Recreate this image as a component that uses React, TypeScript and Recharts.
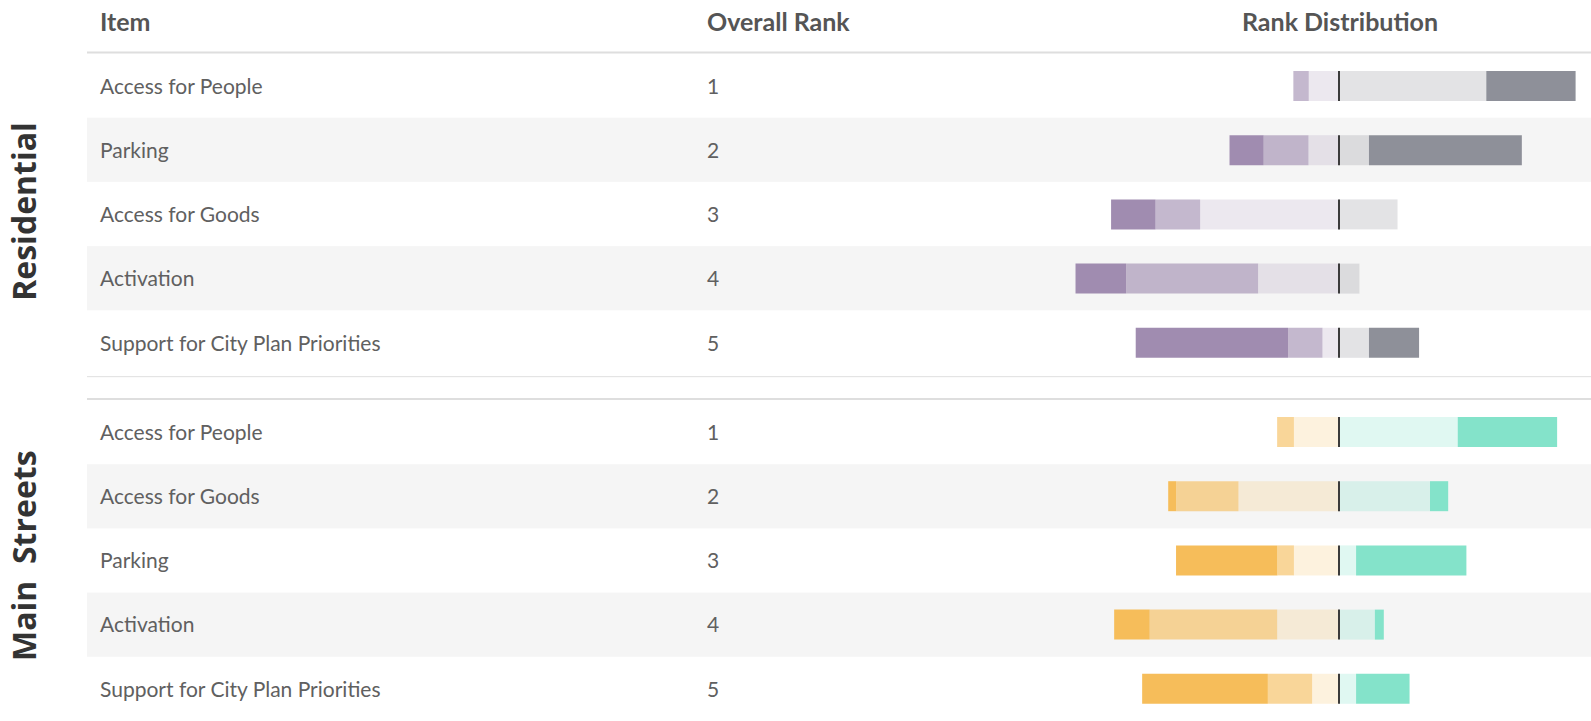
import React from 'react';
import { BarChart, Bar, XAxis, YAxis } from 'recharts';

// ---------- data ----------
const residentialItems = ['Access for People', 'Parking', 'Access for Goods', 'Activation', 'Support for City Plan Priorities'];
const residentialRanks = [1, 2, 3, 4, 5];
// share (%) of respondents giving each rank
const residentialRank1 = [0, 12.2, 15.9, 18.1, 54.4];
const residentialRank2 = [5.5, 16.0, 15.9, 47.1, 12.3];
const residentialRank3 = [10.8, 10.9, 49.6, 28.9, 5.9];
const residentialRank4 = [52.6, 10.7, 20.9, 7.3, 10.7];
const residentialRank5 = [31.9, 54.6, 0, 0, 17.9];

const mainItems = ['Access for People', 'Access for Goods', 'Parking', 'Activation', 'Support for City Plan Priorities'];
const mainRanks = [1, 2, 3, 4, 5];
const mainRank1 = [0, 2.8, 36.2, 12.7, 44.9];
const mainRank2 = [6.0, 22.3, 5.9, 45.5, 15.8];
const mainRank3 = [16.1, 35.9, 16.1, 22.1, 9.6];
const mainRank4 = [42.4, 32.5, 6.1, 12.8, 6.1];
const mainRank5 = [35.5, 6.5, 39.4, 3.2, 19.1];

const headers = ['Item', 'Overall Rank', 'Rank Distribution'];
const groupNames = ['Residential', 'Main  Streets'];

// ---------- layout ----------
const W = 1591;
const H = 721;
const ROW_H = 64.2;
const G1_TOP = 53.5;
const G2_TOP = 400;
const CHART_H = ROW_H * 5;
const TABLE_LEFT = 87;
const AXIS_W = 1059;

const buildRows = (items: string[], r1: number[], r2: number[], r3: number[], r4: number[], r5: number[]) =>
  items.map((item, i) => ({
    item,
    r1: -r1[i],
    r2: -r2[i],
    r3: -r3[i],
    r4: r4[i],
    r5: r5[i],
  }));

const residentialRows = buildRows(residentialItems, residentialRank1, residentialRank2, residentialRank3, residentialRank4, residentialRank5);
const mainRows = buildRows(mainItems, mainRank1, mainRank2, mainRank3, mainRank4, mainRank5);

const makeTick = (items: string[], ranks: number[]) => (props: any) => {
  const { y, payload } = props;
  const idx = items.indexOf(payload.value);
  return (
    <g>
      <text x={100} y={y} dy="0.37em" fontFamily="Lato" fontSize={21} fill="#606060">
        {payload.value}
      </text>
      <text x={707} y={y} dy="0.37em" fontFamily="Lato" fontSize={21} fill="#606060">
        {ranks[idx]}
      </text>
    </g>
  );
};

const centerShape = (fill: string, opacity: number) => (props: any) => {
  const { x, y, width, height } = props;
  return (
    <g>
      <rect x={x} y={y} width={Math.max(width, 0)} height={height} fill={fill} fillOpacity={opacity} />
      <line x1={x} x2={x} y1={y} y2={y + height} stroke="#3b3b3b" strokeWidth={2} />
    </g>
  );
};

type GroupProps = {
  rows: any[];
  items: string[];
  ranks: number[];
  left: string;
  right: string;
};

const Group = ({ rows, items, ranks, left, right }: GroupProps) => (
  <BarChart
    width={W}
    height={CHART_H}
    data={rows}
    layout="vertical"
    stackOffset="sign"
    margin={{ top: 0, right: 0, bottom: 0, left: 0 }}
    barSize={30}
  >
    <XAxis type="number" domain={[-100, 90]} hide allowDataOverflow />
    <YAxis
      type="category"
      dataKey="item"
      width={AXIS_W}
      axisLine={false}
      tickLine={false}
      interval={0}
      tick={makeTick(items, ranks)}
    />
    <Bar dataKey="r3" stackId="a" fill={left} fillOpacity={0.2} isAnimationActive={false} />
    <Bar dataKey="r2" stackId="a" fill={left} fillOpacity={0.62} isAnimationActive={false} />
    <Bar dataKey="r1" stackId="a" fill={left} fillOpacity={1} isAnimationActive={false} />
    <Bar dataKey="r4" stackId="a" fill={right} fillOpacity={0.25} shape={centerShape(right, 0.25)} isAnimationActive={false} />
    <Bar dataKey="r5" stackId="a" fill={right} fillOpacity={1} isAnimationActive={false} />
  </BarChart>
);

export default function App() {
  return (
    <div style={{ position: 'absolute', left: 0, top: 0, width: W, height: H, background: '#fff', overflow: 'hidden' }}>
      <svg width={W} height={H} style={{ position: 'absolute', left: 0, top: 0 }}>
        {[1, 3].map((i) => (
          <rect key={'s1' + i} x={TABLE_LEFT} y={G1_TOP + i * ROW_H} width={W - TABLE_LEFT} height={ROW_H} fill="#f5f5f5" />
        ))}
        {[1, 3].map((i) => (
          <rect key={'s2' + i} x={TABLE_LEFT} y={G2_TOP + i * ROW_H} width={W - TABLE_LEFT} height={ROW_H} fill="#f5f5f5" />
        ))}
        <rect x={TABLE_LEFT} y={51.5} width={W - TABLE_LEFT} height={2} fill="#dedede" />
        <rect x={TABLE_LEFT} y={376} width={W - TABLE_LEFT} height={1.2} fill="#e4e4e4" />
        <rect x={TABLE_LEFT} y={398} width={W - TABLE_LEFT} height={2} fill="#dedede" />
        <text x={100} y={31} fontFamily="Lato" fontWeight={700} fontSize={25} fill="#555">{headers[0]}</text>
        <text x={707} y={31} fontFamily="Lato" fontWeight={700} fontSize={25} fill="#555">{headers[1]}</text>
        <text x={1340} y={31} textAnchor="middle" fontFamily="Lato" fontWeight={700} fontSize={25} fill="#555">{headers[2]}</text>
        <text transform="translate(36, 211.5) rotate(-90)" textAnchor="middle" fontFamily="Open Sans" fontWeight={700} fontSize={32} fill="#333" style={{ whiteSpace: 'pre' }}>{groupNames[0]}</text>
        <text transform="translate(36, 555.7) rotate(-90)" textAnchor="middle" fontFamily="Open Sans" fontWeight={700} fontSize={32} fill="#333" style={{ whiteSpace: 'pre' }}>{groupNames[1]}</text>
      </svg>
      <div style={{ position: 'absolute', left: 0, top: G1_TOP }}>
        <Group rows={residentialRows} items={residentialItems} ranks={residentialRanks} left="#a08cb0" right="#8e9099" />
      </div>
      <div style={{ position: 'absolute', left: 0, top: G2_TOP }}>
        <Group rows={mainRows} items={mainItems} ranks={mainRanks} left="#f6bd5a" right="#84e3ca" />
      </div>
    </div>
  );
}
